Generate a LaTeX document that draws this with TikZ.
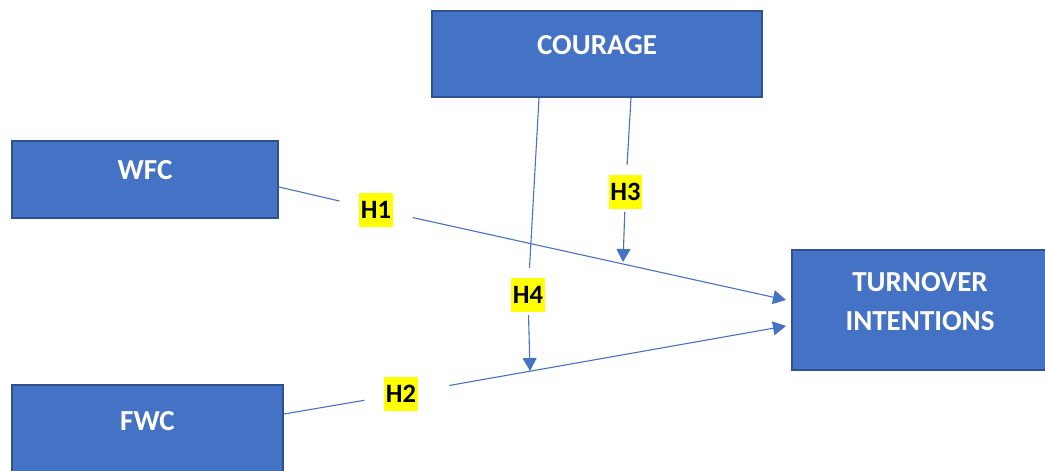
\documentclass[tikz,border=0pt]{standalone}
\usepackage{fontspec}
\setmainfont{Carlito}
\usetikzlibrary{arrows.meta}
\definecolor{boxblue}{HTML}{4472C4}
\definecolor{boxedge}{HTML}{2F528F}
\definecolor{hyellow}{HTML}{FFFF00}
\tikzset{
  varbox/.style={draw=boxedge, line width=2pt, fill=boxblue, inner sep=0pt},
  boxtext/.style={text=white, font=\bfseries\fontsize{29}{38.5}\selectfont, align=center, inner sep=0pt},
  hlab/.style={fill=hyellow, text=black, font=\bfseries\fontsize{26.5}{30}\selectfont,
    inner xsep=1.5pt, inner ysep=0pt, minimum height=34pt, outer xsep=20pt, outer ysep=3pt},
  conn/.style={draw=boxblue, line width=1.1pt},
  arr/.style={conn, -{Triangle[length=13pt,width=14pt]}}
}
\begin{document}
\begin{tikzpicture}[x=1pt,y=-1pt]
\useasboundingbox (0,0) rectangle (1045,471);
\begin{scope}
\clip (0,0) rectangle (1045,471);
\node[varbox, minimum width=266pt, minimum height=77pt,
  label={[boxtext, yshift=9pt]center:WFC}] (wfc) at (145,179.5) {};
\node[varbox, minimum width=330pt, minimum height=86pt,
  label={[boxtext, yshift=8.5pt]center:COURAGE}] (cour) at (597,54) {};
\node[varbox, minimum width=256pt, minimum height=120pt,
  label={[boxtext, yshift=8.3pt]center:TURNOVER\\INTENTIONS}] (turn) at (920,310) {};
\node[varbox, minimum width=271pt, minimum height=100pt,
  label={[boxtext, yshift=13.5pt]center:FWC}] (fwc) at (147.5,435) {};
\end{scope}

\node[hlab] (h1) at (376,209.5) {H1};
\node[hlab] (h2) at (401,394) {H2};
\node[hlab] (h3) at (625.5,192) {H3};
\node[hlab] (h4) at (528,295) {H4};

\coordinate (t3) at (623,262);
\coordinate (t4) at (530,371);

% WFC -> TURNOVER
\draw[conn] ([yshift=-7.5pt]wfc.east) -- (h1);
\draw[arr] (h1) -- ([xshift=-5pt,yshift=10pt]turn.west);
% FWC -> TURNOVER
\draw[conn] ([yshift=21pt]fwc.east) -- (h2);
\draw[arr, shorten <=12pt] (h2) -- ([xshift=-5pt,yshift=-16pt]turn.west);
% COURAGE -> H3
\draw[conn, shorten >=7pt] ([xshift=34pt]cour.south) -- (h3);
\draw[arr] (h3) -- (t3);
% COURAGE -> H4
\draw[conn, shorten >=7pt] ([xshift=-58pt]cour.south) -- (h4);
\draw[arr] (h4) -- (t4);
\end{tikzpicture}
\end{document}
